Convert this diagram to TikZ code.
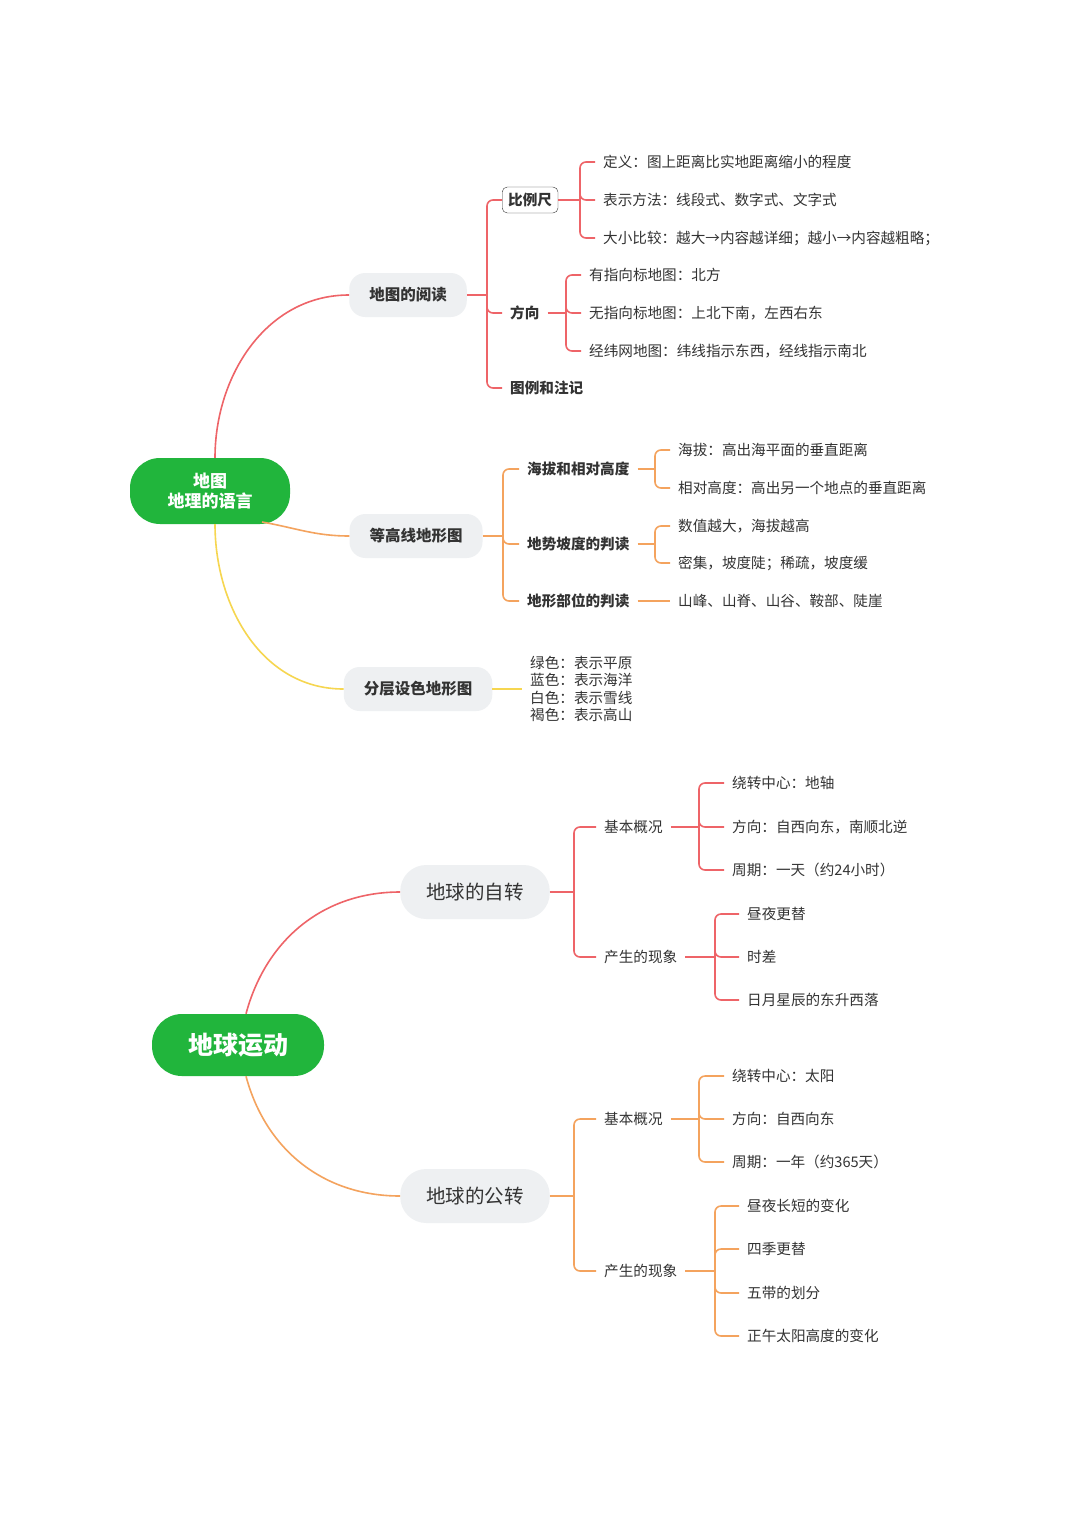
\documentclass[tikz,border=0pt]{standalone}
\usepackage{fontspec}
\setmainfont{Noto Sans CJK SC}
\usetikzlibrary{positioning}
\definecolor{redl}{HTML}{EE6468}
\definecolor{orgl}{HTML}{F4A35E}
\definecolor{yell}{HTML}{F6D650}
\definecolor{grn}{HTML}{21B53C}
\definecolor{pill}{HTML}{EEF0F2}
\definecolor{txt}{HTML}{333333}
\tikzset{
  lbl/.style={anchor=west, inner ysep=2pt, inner xsep=8pt, text=txt, font=\fontsize{14.6}{16}\selectfont},
  blbl/.style={lbl, font=\fontsize{14.6}{16}\selectfont\bfseries},
  mid/.style={fill=pill, rounded corners=16pt, minimum height=44pt, inner xsep=20pt, text=txt, font=\fontsize{15.5}{18}\selectfont\bfseries},
  big/.style={fill=pill, rounded corners=26pt, minimum height=54pt, inner xsep=26pt, text=txt, font=\fontsize{19.5}{22}\selectfont},
  root/.style={fill=grn, rounded corners=30pt, text=white, align=center, font=\bfseries},
  conn/.style={line width=1.6pt, rounded corners=6pt},
}
\begin{document}
\begin{tikzpicture}[x=1pt, y=-1pt]
\useasboundingbox[fill=white] (0,0) rectangle (1080,1528);

% first map
\node[root, minimum width=160pt, minimum height=66pt, font=\fontsize{17}{20}\selectfont\bfseries] (mapR) at (210,491) {地图\\地理的语言};
\node[mid] (read) at (408,295) {地图的阅读};
\node[mid] (cont) at (416,536) {等高线地形图};
\node[mid] (layer) at (418,689) {分层设色地形图};
\draw[conn, redl] (mapR.north) ++(5,0) to[out=90, in=180] (read.west);
\draw[conn, orgl] (262,522) to[out=-10, in=180] (cont.west);
\draw[conn, yell] (mapR.south) ++(5,0) to[out=-90, in=180] (layer.west);

% map reading
\node[blbl, draw=txt, rounded corners=5pt, inner sep=6pt, fill=white] (scale) at (502,200) {比例尺};
\node[blbl] (dir) at (502,313) {方向};
\node[blbl] (legend) at (502,388) {图例和注记};
\coordinate (bA) at (487,295);
\draw[conn, redl] (read.east) -- (bA);
\foreach \c in {scale,dir,legend} \draw[conn, redl] (bA) -- (bA |- \c.west) -- (\c.west);
\node[lbl] (s1) at (595,162) {定义：图上距离比实地距离缩小的程度};
\node[lbl] (s2) at (595,200) {表示方法：线段式、数字式、文字式};
\node[lbl] (s3) at (595,238) {大小比较：越大→内容越详细；越小→内容越粗略；};
\coordinate (bS) at (580,200);
\draw[conn, redl] (scale.east) -- (bS);
\foreach \c in {s1,s2,s3} \draw[conn, redl] (bS) -- (bS |- \c.west) -- (\c.west);
\node[lbl] (d1) at (581,275) {有指向标地图：北方};
\node[lbl] (d2) at (581,313) {无指向标地图：上北下南，左西右东};
\node[lbl] (d3) at (581,351) {经纬网地图：纬线指示东西，经线指示南北};
\coordinate (bD) at (566,313);
\draw[conn, redl] (dir.east) -- (bD);
\foreach \c in {d1,d2,d3} \draw[conn, redl] (bD) -- (bD |- \c.west) -- (\c.west);

% contour map
\node[blbl] (alt) at (519,469) {海拔和相对高度};
\node[blbl] (slope) at (519,544) {地势坡度的判读};
\node[blbl] (part) at (519,601) {地形部位的判读};
\coordinate (bC) at (503,536);
\draw[conn, orgl] (cont.east) -- (bC);
\foreach \c in {alt,slope,part} \draw[conn, orgl] (bC) -- (bC |- \c.west) -- (\c.west);
\node[lbl] (a1) at (670,450) {海拔：高出海平面的垂直距离};
\node[lbl] (a2) at (670,488) {相对高度：高出另一个地点的垂直距离};
\coordinate (bAl) at (655,469);
\draw[conn, orgl] (alt.east) -- (bAl);
\foreach \c in {a1,a2} \draw[conn, orgl] (bAl) -- (bAl |- \c.west) -- (\c.west);
\node[lbl] (p1) at (670,526) {数值越大，海拔越高};
\node[lbl] (p2) at (670,563) {密集，坡度陡；稀疏，坡度缓};
\coordinate (bP) at (655,544);
\draw[conn, orgl] (slope.east) -- (bP);
\foreach \c in {p1,p2} \draw[conn, orgl] (bP) -- (bP |- \c.west) -- (\c.west);
\node[lbl] (t1) at (670,601) {山峰、山脊、山谷、鞍部、陡崖};
\draw[conn, orgl] (part.east) -- (t1.west);

% layered colour
\node[lbl, align=left, font=\fontsize{14.6}{17.5}\selectfont] (colours) at (522,689) {绿色：表示平原\\蓝色：表示海洋\\白色：表示雪线\\褐色：表示高山};
\draw[conn, yell] (layer.east) -- (colours.west);

% second map
\node[root, minimum width=172pt, minimum height=62pt, font=\fontsize{25}{28}\selectfont\bfseries] (earthR) at (238,1045) {地球运动};
\node[big] (rot) at (475,892) {地球的自转};
\node[big] (rev) at (475,1196) {地球的公转};
\draw[conn, redl] (earthR.north) ++(8,0) to[out=75, in=180] (rot.west);
\draw[conn, orgl] (earthR.south) ++(8,0) to[out=-75, in=180] (rev.west);

% rotation
\node[lbl] (rb) at (596,827) {基本概况};
\node[lbl] (rp) at (596,957) {产生的现象};
\coordinate (bR) at (574,892);
\draw[conn, redl] (rot.east) -- (bR);
\foreach \c in {rb,rp} \draw[conn, redl] (bR) -- (bR |- \c.west) -- (\c.west);
\node[lbl] (rb1) at (724,783) {绕转中心：地轴};
\node[lbl] (rb2) at (724,827) {方向：自西向东，南顺北逆};
\node[lbl] (rb3) at (724,870) {周期：一天（约24小时）};
\coordinate (bRb) at (699,827);
\draw[conn, redl] (rb.east) -- (bRb);
\foreach \c in {rb1,rb2,rb3} \draw[conn, redl] (bRb) -- (bRb |- \c.west) -- (\c.west);
\node[lbl] (rp1) at (739,914) {昼夜更替};
\node[lbl] (rp2) at (739,957) {时差};
\node[lbl] (rp3) at (739,1000) {日月星辰的东升西落};
\coordinate (bRp) at (715,957);
\draw[conn, redl] (rp.east) -- (bRp);
\foreach \c in {rp1,rp2,rp3} \draw[conn, redl] (bRp) -- (bRp |- \c.west) -- (\c.west);

% revolution
\node[lbl] (vb) at (596,1119) {基本概况};
\node[lbl] (vp) at (596,1271) {产生的现象};
\coordinate (bV) at (574,1196);
\draw[conn, orgl] (rev.east) -- (bV);
\foreach \c in {vb,vp} \draw[conn, orgl] (bV) -- (bV |- \c.west) -- (\c.west);
\node[lbl] (vb1) at (724,1076) {绕转中心：太阳};
\node[lbl] (vb2) at (724,1119) {方向：自西向东};
\node[lbl] (vb3) at (724,1162) {周期：一年（约365天）};
\coordinate (bVb) at (699,1119);
\draw[conn, orgl] (vb.east) -- (bVb);
\foreach \c in {vb1,vb2,vb3} \draw[conn, orgl] (bVb) -- (bVb |- \c.west) -- (\c.west);
\node[lbl] (vp1) at (739,1206) {昼夜长短的变化};
\node[lbl] (vp2) at (739,1249) {四季更替};
\node[lbl] (vp3) at (739,1293) {五带的划分};
\node[lbl] (vp4) at (739,1336) {正午太阳高度的变化};
\coordinate (bVp) at (715,1271);
\draw[conn, orgl] (vp.east) -- (bVp);
\foreach \c in {vp1,vp2,vp3,vp4} \draw[conn, orgl] (bVp) -- (bVp |- \c.west) -- (\c.west);
\end{tikzpicture}
\end{document}
